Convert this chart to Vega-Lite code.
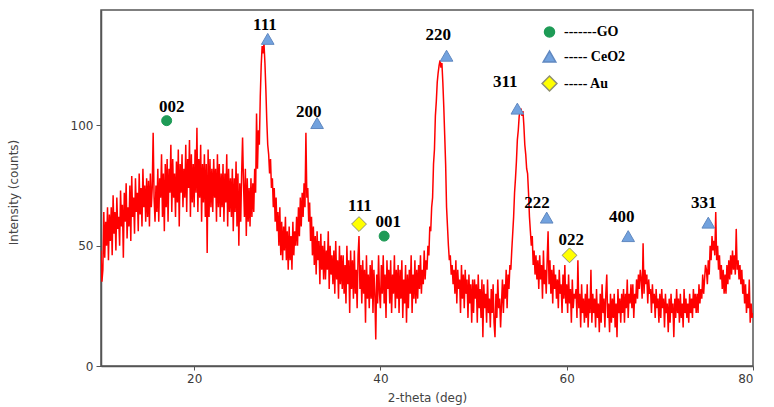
{
  "$schema": "https://vega.github.io/schema/vega-lite/v6.json",
  "autosize": {"type": "none"},
  "padding": {"left": 101, "top": 10, "right": 21, "bottom": 41},
  "width": 652,
  "height": 356,
  "background": "white",
  "config": {
    "view": {"stroke": "#555", "strokeWidth": 1.5},
    "axis": {"grid": false, "domainColor": "#555", "tickColor": "#555", "domainWidth": 1.5, "labelFont": "DejaVu Sans", "labelFontSize": 12, "labelColor": "#3a3a3a", "titleFont": "DejaVu Sans", "titleFontSize": 12, "titleFontWeight": "normal", "titleColor": "#444"}
  },
  "datasets": {
    "xrd": [
{"deg":10.0,"counts":48},{"deg":10.1,"counts":35},{"deg":10.2,"counts":40},{"deg":10.3,"counts":64},{"deg":10.4,"counts":45},{"deg":10.5,"counts":60},{"deg":10.6,"counts":50},{"deg":10.7,"counts":66},{"deg":10.8,"counts":44},{"deg":10.9,"counts":63},
{"deg":11.0,"counts":52},{"deg":11.1,"counts":66},{"deg":11.2,"counts":46},{"deg":11.3,"counts":71},{"deg":11.4,"counts":55},{"deg":11.5,"counts":64},{"deg":11.6,"counts":48},{"deg":11.7,"counts":70},{"deg":11.8,"counts":57},{"deg":11.9,"counts":62},
{"deg":12.0,"counts":50},{"deg":12.1,"counts":73},{"deg":12.2,"counts":58},{"deg":12.3,"counts":67},{"deg":12.4,"counts":45},{"deg":12.5,"counts":72},{"deg":12.6,"counts":60},{"deg":12.7,"counts":76},{"deg":12.8,"counts":53},{"deg":12.9,"counts":66},
{"deg":13.0,"counts":58},{"deg":13.1,"counts":75},{"deg":13.2,"counts":52},{"deg":13.3,"counts":79},{"deg":13.4,"counts":62},{"deg":13.5,"counts":70},{"deg":13.6,"counts":55},{"deg":13.7,"counts":78},{"deg":13.8,"counts":64},{"deg":13.9,"counts":72},
{"deg":14.0,"counts":56},{"deg":14.1,"counts":80},{"deg":14.2,"counts":63},{"deg":14.3,"counts":74},{"deg":14.4,"counts":58},{"deg":14.5,"counts":82},{"deg":14.6,"counts":66},{"deg":14.7,"counts":75},{"deg":14.8,"counts":60},{"deg":14.9,"counts":78},
{"deg":15.0,"counts":62},{"deg":15.1,"counts":77},{"deg":15.2,"counts":58},{"deg":15.3,"counts":80},{"deg":15.4,"counts":66},{"deg":15.5,"counts":74},{"deg":15.6,"counts":97},{"deg":15.7,"counts":70},{"deg":15.8,"counts":60},{"deg":15.9,"counts":75},
{"deg":16.0,"counts":64},{"deg":16.1,"counts":82},{"deg":16.2,"counts":60},{"deg":16.3,"counts":78},{"deg":16.4,"counts":70},{"deg":16.5,"counts":88},{"deg":16.6,"counts":62},{"deg":16.7,"counts":80},{"deg":16.8,"counts":56},{"deg":16.9,"counts":84},
{"deg":17.0,"counts":66},{"deg":17.1,"counts":86},{"deg":17.2,"counts":60},{"deg":17.3,"counts":82},{"deg":17.4,"counts":72},{"deg":17.5,"counts":92},{"deg":17.6,"counts":64},{"deg":17.7,"counts":86},{"deg":17.8,"counts":70},{"deg":17.9,"counts":80},
{"deg":18.0,"counts":62},{"deg":18.1,"counts":85},{"deg":18.2,"counts":68},{"deg":18.3,"counts":90},{"deg":18.4,"counts":58},{"deg":18.5,"counts":84},{"deg":18.6,"counts":72},{"deg":18.7,"counts":88},{"deg":18.8,"counts":66},{"deg":18.9,"counts":82},
{"deg":19.0,"counts":70},{"deg":19.1,"counts":92},{"deg":19.2,"counts":64},{"deg":19.3,"counts":86},{"deg":19.4,"counts":74},{"deg":19.5,"counts":94},{"deg":19.6,"counts":62},{"deg":19.7,"counts":88},{"deg":19.8,"counts":68},{"deg":19.9,"counts":84},
{"deg":20.0,"counts":66},{"deg":20.1,"counts":90},{"deg":20.2,"counts":72},{"deg":20.3,"counts":99},{"deg":20.4,"counts":64},{"deg":20.5,"counts":86},{"deg":20.6,"counts":70},{"deg":20.7,"counts":92},{"deg":20.8,"counts":60},{"deg":20.9,"counts":84},
{"deg":21.0,"counts":68},{"deg":21.1,"counts":88},{"deg":21.2,"counts":62},{"deg":21.3,"counts":84},{"deg":21.4,"counts":47},{"deg":21.5,"counts":90},{"deg":21.6,"counts":62},{"deg":21.7,"counts":86},{"deg":21.8,"counts":66},{"deg":21.9,"counts":82},
{"deg":22.0,"counts":64},{"deg":22.1,"counts":86},{"deg":22.2,"counts":70},{"deg":22.3,"counts":82},{"deg":22.4,"counts":60},{"deg":22.5,"counts":88},{"deg":22.6,"counts":66},{"deg":22.7,"counts":84},{"deg":22.8,"counts":62},{"deg":22.9,"counts":80},
{"deg":23.0,"counts":66},{"deg":23.1,"counts":84},{"deg":23.2,"counts":60},{"deg":23.3,"counts":80},{"deg":23.4,"counts":68},{"deg":23.5,"counts":88},{"deg":23.6,"counts":58},{"deg":23.7,"counts":82},{"deg":23.8,"counts":64},{"deg":23.9,"counts":78},
{"deg":24.0,"counts":62},{"deg":24.1,"counts":82},{"deg":24.2,"counts":56},{"deg":24.3,"counts":78},{"deg":24.4,"counts":64},{"deg":24.5,"counts":85},{"deg":24.6,"counts":58},{"deg":24.7,"counts":80},{"deg":24.8,"counts":50},{"deg":24.9,"counts":76},
{"deg":25.0,"counts":60},{"deg":25.1,"counts":80},{"deg":25.2,"counts":95},{"deg":25.3,"counts":76},{"deg":25.4,"counts":62},{"deg":25.5,"counts":82},{"deg":25.6,"counts":54},{"deg":25.7,"counts":78},{"deg":25.8,"counts":60},{"deg":25.9,"counts":74},
{"deg":26.0,"counts":58},{"deg":26.1,"counts":78},{"deg":26.2,"counts":62},{"deg":26.3,"counts":76},{"deg":26.4,"counts":64},{"deg":26.5,"counts":82},{"deg":26.6,"counts":72},{"deg":26.7,"counts":105},{"deg":26.8,"counts":82},{"deg":26.9,"counts":98},
{"deg":27.0,"counts":92},{"deg":27.1,"counts":112},{"deg":27.2,"counts":125},{"deg":27.3,"counts":133},{"deg":27.4,"counts":130},{"deg":27.5,"counts":134},{"deg":27.6,"counts":126},{"deg":27.7,"counts":115},{"deg":27.8,"counts":102},{"deg":27.9,"counts":92},
{"deg":28.0,"counts":88},{"deg":28.1,"counts":80},{"deg":28.2,"counts":86},{"deg":28.3,"counts":74},{"deg":28.4,"counts":78},{"deg":28.5,"counts":66},{"deg":28.6,"counts":74},{"deg":28.7,"counts":60},{"deg":28.8,"counts":70},{"deg":28.9,"counts":56},
{"deg":29.0,"counts":64},{"deg":29.1,"counts":50},{"deg":29.2,"counts":66},{"deg":29.3,"counts":46},{"deg":29.4,"counts":60},{"deg":29.5,"counts":44},{"deg":29.6,"counts":58},{"deg":29.7,"counts":48},{"deg":29.8,"counts":62},{"deg":29.9,"counts":44},
{"deg":30.0,"counts":56},{"deg":30.1,"counts":40},{"deg":30.2,"counts":58},{"deg":30.3,"counts":44},{"deg":30.4,"counts":54},{"deg":30.5,"counts":40},{"deg":30.6,"counts":60},{"deg":30.7,"counts":46},{"deg":30.8,"counts":56},{"deg":30.9,"counts":50},
{"deg":31.0,"counts":62},{"deg":31.1,"counts":50},{"deg":31.2,"counts":66},{"deg":31.3,"counts":54},{"deg":31.4,"counts":70},{"deg":31.5,"counts":58},{"deg":31.6,"counts":72},{"deg":31.7,"counts":62},{"deg":31.8,"counts":76},{"deg":31.9,"counts":66},
{"deg":32.0,"counts":97},{"deg":32.1,"counts":70},{"deg":32.2,"counts":74},{"deg":32.3,"counts":60},{"deg":32.4,"counts":68},{"deg":32.5,"counts":52},{"deg":32.6,"counts":62},{"deg":32.7,"counts":46},{"deg":32.8,"counts":58},{"deg":32.9,"counts":42},
{"deg":33.0,"counts":54},{"deg":33.1,"counts":38},{"deg":33.2,"counts":56},{"deg":33.3,"counts":44},{"deg":33.4,"counts":52},{"deg":33.5,"counts":34},{"deg":33.6,"counts":55},{"deg":33.7,"counts":40},{"deg":33.8,"counts":50},{"deg":33.9,"counts":36},
{"deg":34.0,"counts":52},{"deg":34.1,"counts":36},{"deg":34.2,"counts":48},{"deg":34.3,"counts":40},{"deg":34.4,"counts":56},{"deg":34.5,"counts":32},{"deg":34.6,"counts":50},{"deg":34.7,"counts":38},{"deg":34.8,"counts":46},{"deg":34.9,"counts":34},
{"deg":35.0,"counts":48},{"deg":35.1,"counts":30},{"deg":35.2,"counts":52},{"deg":35.3,"counts":36},{"deg":35.4,"counts":44},{"deg":35.5,"counts":28},{"deg":35.6,"counts":50},{"deg":35.7,"counts":34},{"deg":35.8,"counts":46},{"deg":35.9,"counts":32},
{"deg":36.0,"counts":46},{"deg":36.1,"counts":30},{"deg":36.2,"counts":42},{"deg":36.3,"counts":26},{"deg":36.4,"counts":50},{"deg":36.5,"counts":34},{"deg":36.6,"counts":44},{"deg":36.7,"counts":22},{"deg":36.8,"counts":48},{"deg":36.9,"counts":32},
{"deg":37.0,"counts":44},{"deg":37.1,"counts":28},{"deg":37.2,"counts":48},{"deg":37.3,"counts":30},{"deg":37.4,"counts":40},{"deg":37.5,"counts":24},{"deg":37.6,"counts":46},{"deg":37.7,"counts":54},{"deg":37.8,"counts":32},{"deg":37.9,"counts":42},
{"deg":38.0,"counts":26},{"deg":38.1,"counts":44},{"deg":38.2,"counts":30},{"deg":38.3,"counts":40},{"deg":38.4,"counts":18},{"deg":38.5,"counts":46},{"deg":38.6,"counts":28},{"deg":38.7,"counts":38},{"deg":38.8,"counts":24},{"deg":38.9,"counts":42},
{"deg":39.0,"counts":28},{"deg":39.1,"counts":44},{"deg":39.2,"counts":22},{"deg":39.3,"counts":40},{"deg":39.4,"counts":30},{"deg":39.5,"counts":11},{"deg":39.6,"counts":38},{"deg":39.7,"counts":26},{"deg":39.8,"counts":46},{"deg":39.9,"counts":30},
{"deg":40.0,"counts":24},{"deg":40.1,"counts":42},{"deg":40.2,"counts":30},{"deg":40.3,"counts":46},{"deg":40.4,"counts":26},{"deg":40.5,"counts":38},{"deg":40.6,"counts":20},{"deg":40.7,"counts":44},{"deg":40.8,"counts":32},{"deg":40.9,"counts":40},
{"deg":41.0,"counts":26},{"deg":41.1,"counts":44},{"deg":41.2,"counts":22},{"deg":41.3,"counts":38},{"deg":41.4,"counts":30},{"deg":41.5,"counts":46},{"deg":41.6,"counts":24},{"deg":41.7,"counts":40},{"deg":41.8,"counts":28},{"deg":41.9,"counts":42},
{"deg":42.0,"counts":22},{"deg":42.1,"counts":40},{"deg":42.2,"counts":28},{"deg":42.3,"counts":44},{"deg":42.4,"counts":20},{"deg":42.5,"counts":36},{"deg":42.6,"counts":26},{"deg":42.7,"counts":42},{"deg":42.8,"counts":18},{"deg":42.9,"counts":38},
{"deg":43.0,"counts":24},{"deg":43.1,"counts":40},{"deg":43.2,"counts":30},{"deg":43.3,"counts":46},{"deg":43.4,"counts":22},{"deg":43.5,"counts":38},{"deg":43.6,"counts":28},{"deg":43.7,"counts":44},{"deg":43.8,"counts":26},{"deg":43.9,"counts":40},
{"deg":44.0,"counts":28},{"deg":44.1,"counts":42},{"deg":44.2,"counts":32},{"deg":44.3,"counts":46},{"deg":44.4,"counts":30},{"deg":44.5,"counts":40},{"deg":44.6,"counts":34},{"deg":44.7,"counts":48},{"deg":44.8,"counts":36},{"deg":44.9,"counts":44},
{"deg":45.0,"counts":40},{"deg":45.1,"counts":50},{"deg":45.2,"counts":46},{"deg":45.3,"counts":58},{"deg":45.4,"counts":56},{"deg":45.5,"counts":66},{"deg":45.6,"counts":70},{"deg":45.7,"counts":84},{"deg":45.8,"counts":90},{"deg":45.9,"counts":104},
{"deg":46.0,"counts":110},{"deg":46.1,"counts":118},{"deg":46.2,"counts":122},{"deg":46.3,"counts":125},{"deg":46.4,"counts":127},{"deg":46.5,"counts":124},{"deg":46.6,"counts":126},{"deg":46.7,"counts":118},{"deg":46.8,"counts":108},{"deg":46.9,"counts":96},
{"deg":47.0,"counts":84},{"deg":47.1,"counts":66},{"deg":47.2,"counts":58},{"deg":47.3,"counts":50},{"deg":47.4,"counts":44},{"deg":47.5,"counts":46},{"deg":47.6,"counts":38},{"deg":47.7,"counts":42},{"deg":47.8,"counts":34},{"deg":47.9,"counts":40},
{"deg":48.0,"counts":30},{"deg":48.1,"counts":44},{"deg":48.2,"counts":26},{"deg":48.3,"counts":40},{"deg":48.4,"counts":32},{"deg":48.5,"counts":36},{"deg":48.6,"counts":22},{"deg":48.7,"counts":42},{"deg":48.8,"counts":28},{"deg":48.9,"counts":38},
{"deg":49.0,"counts":24},{"deg":49.1,"counts":40},{"deg":49.2,"counts":30},{"deg":49.3,"counts":36},{"deg":49.4,"counts":20},{"deg":49.5,"counts":38},{"deg":49.6,"counts":26},{"deg":49.7,"counts":34},{"deg":49.8,"counts":18},{"deg":49.9,"counts":36},
{"deg":50.0,"counts":22},{"deg":50.1,"counts":36},{"deg":50.2,"counts":28},{"deg":50.3,"counts":34},{"deg":50.4,"counts":18},{"deg":50.5,"counts":38},{"deg":50.6,"counts":24},{"deg":50.7,"counts":32},{"deg":50.8,"counts":20},{"deg":50.9,"counts":36},
{"deg":51.0,"counts":12},{"deg":51.1,"counts":34},{"deg":51.2,"counts":24},{"deg":51.3,"counts":30},{"deg":51.4,"counts":18},{"deg":51.5,"counts":36},{"deg":51.6,"counts":22},{"deg":51.7,"counts":28},{"deg":51.8,"counts":16},{"deg":51.9,"counts":32},
{"deg":52.0,"counts":22},{"deg":52.1,"counts":34},{"deg":52.2,"counts":18},{"deg":52.3,"counts":12},{"deg":52.4,"counts":30},{"deg":52.5,"counts":20},{"deg":52.6,"counts":36},{"deg":52.7,"counts":24},{"deg":52.8,"counts":28},{"deg":52.9,"counts":16},
{"deg":53.0,"counts":26},{"deg":53.1,"counts":36},{"deg":53.2,"counts":22},{"deg":53.3,"counts":34},{"deg":53.4,"counts":28},{"deg":53.5,"counts":40},{"deg":53.6,"counts":24},{"deg":53.7,"counts":38},{"deg":53.8,"counts":32},{"deg":53.9,"counts":42},
{"deg":54.0,"counts":40},{"deg":54.1,"counts":48},{"deg":54.2,"counts":55},{"deg":54.3,"counts":62},{"deg":54.4,"counts":72},{"deg":54.5,"counts":78},{"deg":54.6,"counts":85},{"deg":54.7,"counts":94},{"deg":54.8,"counts":98},{"deg":54.9,"counts":104},
{"deg":55.0,"counts":106},{"deg":55.1,"counts":107},{"deg":55.2,"counts":104},{"deg":55.3,"counts":106},{"deg":55.4,"counts":100},{"deg":55.5,"counts":92},{"deg":55.6,"counts":88},{"deg":55.7,"counts":82},{"deg":55.8,"counts":80},{"deg":55.9,"counts":72},
{"deg":56.0,"counts":62},{"deg":56.1,"counts":56},{"deg":56.2,"counts":50},{"deg":56.3,"counts":54},{"deg":56.4,"counts":42},{"deg":56.5,"counts":48},{"deg":56.6,"counts":38},{"deg":56.7,"counts":46},{"deg":56.8,"counts":36},{"deg":56.9,"counts":44},
{"deg":57.0,"counts":32},{"deg":57.1,"counts":46},{"deg":57.2,"counts":36},{"deg":57.3,"counts":42},{"deg":57.4,"counts":28},{"deg":57.5,"counts":48},{"deg":57.6,"counts":34},{"deg":57.7,"counts":40},{"deg":57.8,"counts":30},{"deg":57.9,"counts":44},
{"deg":58.0,"counts":56},{"deg":58.1,"counts":34},{"deg":58.2,"counts":44},{"deg":58.3,"counts":30},{"deg":58.4,"counts":40},{"deg":58.5,"counts":26},{"deg":58.6,"counts":42},{"deg":58.7,"counts":32},{"deg":58.8,"counts":38},{"deg":58.9,"counts":28},
{"deg":59.0,"counts":36},{"deg":59.1,"counts":24},{"deg":59.2,"counts":40},{"deg":59.3,"counts":30},{"deg":59.4,"counts":34},{"deg":59.5,"counts":22},{"deg":59.6,"counts":38},{"deg":59.7,"counts":28},{"deg":59.8,"counts":42},{"deg":59.9,"counts":26},
{"deg":60.0,"counts":34},{"deg":60.1,"counts":22},{"deg":60.2,"counts":38},{"deg":60.3,"counts":26},{"deg":60.4,"counts":32},{"deg":60.5,"counts":18},{"deg":60.6,"counts":36},{"deg":60.7,"counts":24},{"deg":60.8,"counts":30},{"deg":60.9,"counts":28},
{"deg":61.0,"counts":32},{"deg":61.1,"counts":20},{"deg":61.2,"counts":44},{"deg":61.3,"counts":24},{"deg":61.4,"counts":30},{"deg":61.5,"counts":16},{"deg":61.6,"counts":34},{"deg":61.7,"counts":22},{"deg":61.8,"counts":28},{"deg":61.9,"counts":18},
{"deg":62.0,"counts":30},{"deg":62.1,"counts":20},{"deg":62.2,"counts":34},{"deg":62.3,"counts":16},{"deg":62.4,"counts":28},{"deg":62.5,"counts":22},{"deg":62.6,"counts":40},{"deg":62.7,"counts":18},{"deg":62.8,"counts":30},{"deg":62.9,"counts":22},
{"deg":63.0,"counts":28},{"deg":63.1,"counts":16},{"deg":63.2,"counts":32},{"deg":63.3,"counts":20},{"deg":63.4,"counts":26},{"deg":63.5,"counts":14},{"deg":63.6,"counts":30},{"deg":63.7,"counts":18},{"deg":63.8,"counts":34},{"deg":63.9,"counts":22},
{"deg":64.0,"counts":28},{"deg":64.1,"counts":16},{"deg":64.2,"counts":30},{"deg":64.3,"counts":38},{"deg":64.4,"counts":20},{"deg":64.5,"counts":26},{"deg":64.6,"counts":14},{"deg":64.7,"counts":30},{"deg":64.8,"counts":18},{"deg":64.9,"counts":28},
{"deg":65.0,"counts":20},{"deg":65.1,"counts":30},{"deg":65.2,"counts":16},{"deg":65.3,"counts":26},{"deg":65.4,"counts":12},{"deg":65.5,"counts":32},{"deg":65.6,"counts":22},{"deg":65.7,"counts":28},{"deg":65.8,"counts":18},{"deg":65.9,"counts":30},
{"deg":66.0,"counts":22},{"deg":66.1,"counts":32},{"deg":66.2,"counts":18},{"deg":66.3,"counts":30},{"deg":66.4,"counts":24},{"deg":66.5,"counts":36},{"deg":66.6,"counts":20},{"deg":66.7,"counts":30},{"deg":66.8,"counts":26},{"deg":66.9,"counts":34},
{"deg":67.0,"counts":24},{"deg":67.1,"counts":34},{"deg":67.2,"counts":20},{"deg":67.3,"counts":30},{"deg":67.4,"counts":26},{"deg":67.5,"counts":36},{"deg":67.6,"counts":28},{"deg":67.7,"counts":38},{"deg":67.8,"counts":32},{"deg":67.9,"counts":40},
{"deg":68.0,"counts":36},{"deg":68.1,"counts":28},{"deg":68.2,"counts":51},{"deg":68.3,"counts":30},{"deg":68.4,"counts":40},{"deg":68.5,"counts":34},{"deg":68.6,"counts":38},{"deg":68.7,"counts":26},{"deg":68.8,"counts":36},{"deg":68.9,"counts":30},
{"deg":69.0,"counts":32},{"deg":69.1,"counts":22},{"deg":69.2,"counts":34},{"deg":69.3,"counts":26},{"deg":69.4,"counts":30},{"deg":69.5,"counts":20},{"deg":69.6,"counts":32},{"deg":69.7,"counts":24},{"deg":69.8,"counts":28},{"deg":69.9,"counts":18},
{"deg":70.0,"counts":30},{"deg":70.1,"counts":20},{"deg":70.2,"counts":32},{"deg":70.3,"counts":24},{"deg":70.4,"counts":28},{"deg":70.5,"counts":16},{"deg":70.6,"counts":30},{"deg":70.7,"counts":22},{"deg":70.8,"counts":26},{"deg":70.9,"counts":14},
{"deg":71.0,"counts":28},{"deg":71.1,"counts":18},{"deg":71.2,"counts":30},{"deg":71.3,"counts":22},{"deg":71.4,"counts":26},{"deg":71.5,"counts":12},{"deg":71.6,"counts":28},{"deg":71.7,"counts":20},{"deg":71.8,"counts":32},{"deg":71.9,"counts":22},
{"deg":72.0,"counts":28},{"deg":72.1,"counts":18},{"deg":72.2,"counts":30},{"deg":72.3,"counts":20},{"deg":72.4,"counts":26},{"deg":72.5,"counts":16},{"deg":72.6,"counts":32},{"deg":72.7,"counts":22},{"deg":72.8,"counts":28},{"deg":72.9,"counts":20},
{"deg":73.0,"counts":26},{"deg":73.1,"counts":18},{"deg":73.2,"counts":30},{"deg":73.3,"counts":22},{"deg":73.4,"counts":28},{"deg":73.5,"counts":20},{"deg":73.6,"counts":32},{"deg":73.7,"counts":24},{"deg":73.8,"counts":30},{"deg":73.9,"counts":22},
{"deg":74.0,"counts":30},{"deg":74.1,"counts":22},{"deg":74.2,"counts":34},{"deg":74.3,"counts":26},{"deg":74.4,"counts":32},{"deg":74.5,"counts":28},{"deg":74.6,"counts":38},{"deg":74.7,"counts":30},{"deg":74.8,"counts":36},{"deg":74.9,"counts":42},
{"deg":75.0,"counts":40},{"deg":75.1,"counts":34},{"deg":75.2,"counts":44},{"deg":75.3,"counts":38},{"deg":75.4,"counts":50},{"deg":75.5,"counts":44},{"deg":75.6,"counts":54},{"deg":75.7,"counts":48},{"deg":75.8,"counts":52},{"deg":75.9,"counts":46},
{"deg":76.0,"counts":64},{"deg":76.1,"counts":44},{"deg":76.2,"counts":50},{"deg":76.3,"counts":40},{"deg":76.4,"counts":46},{"deg":76.5,"counts":36},{"deg":76.6,"counts":42},{"deg":76.7,"counts":32},{"deg":76.8,"counts":40},{"deg":76.9,"counts":30},
{"deg":77.0,"counts":38},{"deg":77.1,"counts":30},{"deg":77.2,"counts":42},{"deg":77.3,"counts":34},{"deg":77.4,"counts":44},{"deg":77.5,"counts":36},{"deg":77.6,"counts":46},{"deg":77.7,"counts":38},{"deg":77.8,"counts":48},{"deg":77.9,"counts":40},
{"deg":78.0,"counts":46},{"deg":78.1,"counts":38},{"deg":78.2,"counts":57},{"deg":78.3,"counts":40},{"deg":78.4,"counts":44},{"deg":78.5,"counts":36},{"deg":78.6,"counts":42},{"deg":78.7,"counts":34},{"deg":78.8,"counts":40},{"deg":78.9,"counts":30},
{"deg":79.0,"counts":36},{"deg":79.1,"counts":26},{"deg":79.2,"counts":34},{"deg":79.3,"counts":22},{"deg":79.4,"counts":30},{"deg":79.5,"counts":24},{"deg":79.6,"counts":36},{"deg":79.7,"counts":18},{"deg":79.8,"counts":26},{"deg":79.9,"counts":20},
{"deg":80.0,"counts":22}
    ],
    "markers": [
      {"deg":17.05,"counts":102,"phase":"GO"},
      {"deg":40.4,"counts":54,"phase":"GO"},
      {"deg":27.9,"counts":136,"phase":"CeO2"},
      {"deg":33.2,"counts":101,"phase":"CeO2"},
      {"deg":47.1,"counts":129,"phase":"CeO2"},
      {"deg":54.7,"counts":107,"phase":"CeO2"},
      {"deg":57.85,"counts":61.7,"phase":"CeO2"},
      {"deg":66.6,"counts":54,"phase":"CeO2"},
      {"deg":75.2,"counts":59.6,"phase":"CeO2"},
      {"deg":37.7,"counts":59,"phase":"Au"},
      {"deg":60.3,"counts":46,"phase":"Au"}
    ],
    "labels": [
      {"deg":17.6,"counts":107.8,"label":"002"},
      {"deg":27.6,"counts":141.8,"label":"111"},
      {"deg":32.3,"counts":105.7,"label":"200"},
      {"deg":37.8,"counts":66.5,"label":"111"},
      {"deg":40.85,"counts":60,"label":"001"},
      {"deg":46.2,"counts":137.6,"label":"220"},
      {"deg":53.4,"counts":118.2,"label":"311"},
      {"deg":56.8,"counts":67.9,"label":"222"},
      {"deg":60.5,"counts":52.4,"label":"022"},
      {"deg":65.9,"counts":61.8,"label":"400"},
      {"deg":74.7,"counts":67.6,"label":"331"}
    ]
  },
  "encoding": {
    "x": {"field": "deg", "type": "quantitative", "scale": {"domain": [10, 80], "nice": false, "zero": false},
      "axis": {"values": [20, 40, 60, 80], "tickSize": 4, "labelPadding": 3, "title": "2-theta (deg)", "titleY": 31, "titleBaseline": "middle"}},
    "y": {"field": "counts", "type": "quantitative", "scale": {"domain": [0, 148], "nice": false},
      "axis": {"values": [0, 50, 100], "tickSize": 5, "labelPadding": 3, "title": "Intensity (counts)", "titleX": -88, "titleY": 182, "titleBaseline": "middle"}}
  },
  "layer": [
    {
      "data": {"name": "xrd"},
      "mark": {"type": "line", "color": "#ff0000", "strokeWidth": 1.5, "clip": true}
    },
    {
      "data": {"name": "markers"},
      "mark": {"type": "point", "filled": true, "opacity": 1, "strokeWidth": 1},
      "encoding": {
        "shape": {"field": "phase", "type": "nominal", "scale": {"domain": ["GO", "CeO2", "Au"], "range": ["circle", "triangle-up", "diamond"]},
          "legend": {"title": null, "orient": "none", "legendX": 440, "legendY": 15, "direction": "vertical", "labelFont": "Liberation Serif", "labelFontWeight": "bold", "labelFontSize": 14, "labelColor": "#000", "labelOffset": 6, "rowPadding": 8,
            "labelExpr": "datum.label == 'GO' ? '-------GO' : datum.label == 'CeO2' ? '----- CeO2' : '----- Au'"}},
        "fill": {"field": "phase", "type": "nominal", "scale": {"domain": ["GO", "CeO2", "Au"], "range": ["#1e9b56", "#72a2de", "#ffff00"]}},
        "stroke": {"field": "phase", "type": "nominal", "scale": {"domain": ["GO", "CeO2", "Au"], "range": ["#1e9b56", "#6088c0", "#8f8f70"]}},
        "size": {"field": "phase", "type": "nominal", "scale": {"domain": ["GO", "CeO2", "Au"], "range": [100, 220, 300]}}
      }
    },
    {
      "data": {"name": "labels"},
      "mark": {"type": "text", "font": "Liberation Serif", "fontWeight": "bold", "fontSize": 17, "color": "#000", "align": "center", "baseline": "middle"},
      "encoding": {"text": {"field": "label"}}
    }
  ]
}
